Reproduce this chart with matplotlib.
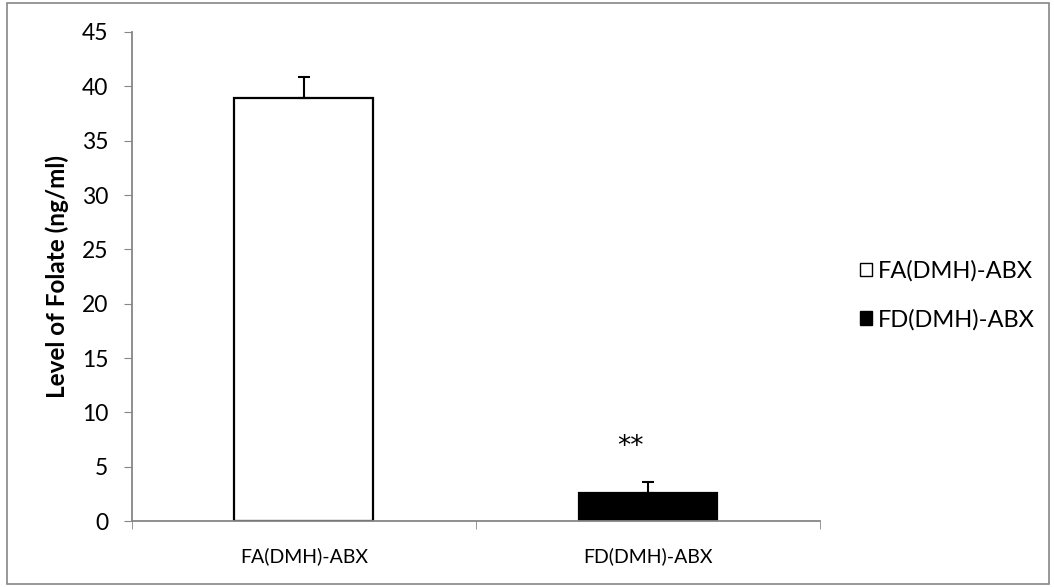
import matplotlib.pyplot as plt
import matplotlib.patches as mpatches
import numpy as np

# values
groups = ['FA(DMH)-ABX', 'FD(DMH)-ABX']
folate = [38.9, 2.6]
folate_err = [2.0, 1.0]
bar_colors = ['white', 'black']
y_ticks = [0, 5, 10, 15, 20, 25, 30, 35, 40, 45]

plt.rcParams['font.family'] = ['Lato', 'DejaVu Sans']

fig = plt.figure(figsize=(10.54, 5.87), dpi=100)
ax = fig.add_axes([0.1252, 0.1124, 0.6528, 0.8331])

x = np.arange(len(groups))
ax.bar(x, folate, width=0.404, color=bar_colors, edgecolor='black', linewidth=1.6,
       yerr=[np.zeros(len(folate)), folate_err], ecolor='black',
       error_kw=dict(elinewidth=1.5, capsize=4.5, capthick=1.5))

# significance mark
ax.text(x[1] - 0.052, 6.8, '**', ha='center', va='center',
        fontsize=19, family='DejaVu Sans')

ax.set_xlim(-0.5, 1.5)
ax.set_ylim(0, 45)
ax.set_yticks(y_ticks)
ax.set_xticks(x)
ax.set_xticklabels(groups, fontsize=14)
ax.tick_params(axis='y', labelsize=16.5, length=6, color='#868686', pad=11)
ax.tick_params(axis='x', length=0, pad=19)
# ticks at category boundaries like the reference
ax.set_xticks([-0.5, 0.5, 1.5], minor=True)
ax.tick_params(axis='x', which='minor', length=6, color='#868686')

for s in ['top', 'right']:
    ax.spines[s].set_visible(False)
for s in ['left', 'bottom']:
    ax.spines[s].set_color('#868686')
    ax.spines[s].set_linewidth(1.3)

ax.set_ylabel('Level of Folate (ng/ml)', fontsize=17.5, fontweight='bold')
ax.yaxis.set_label_coords(-0.091, 0.5)

handles = [mpatches.Patch(facecolor=c, edgecolor='black', linewidth=1.0) for c in bar_colors]
fig.legend(handles, groups, loc='center left', bbox_to_anchor=(860 / 1054, 0.497),
           frameon=False, borderpad=0, borderaxespad=0,
           fontsize=17, handlelength=0.5, handleheight=0.5, handletextpad=0.25,
           labelspacing=1.15)

# outer frame around the whole figure
fig.patches.append(mpatches.Rectangle((0.007, 0.005), 0.988, 0.99, transform=fig.transFigure,
                                      fill=False, edgecolor='#868686', linewidth=1.2))

fig.savefig('out.png', dpi=100)
